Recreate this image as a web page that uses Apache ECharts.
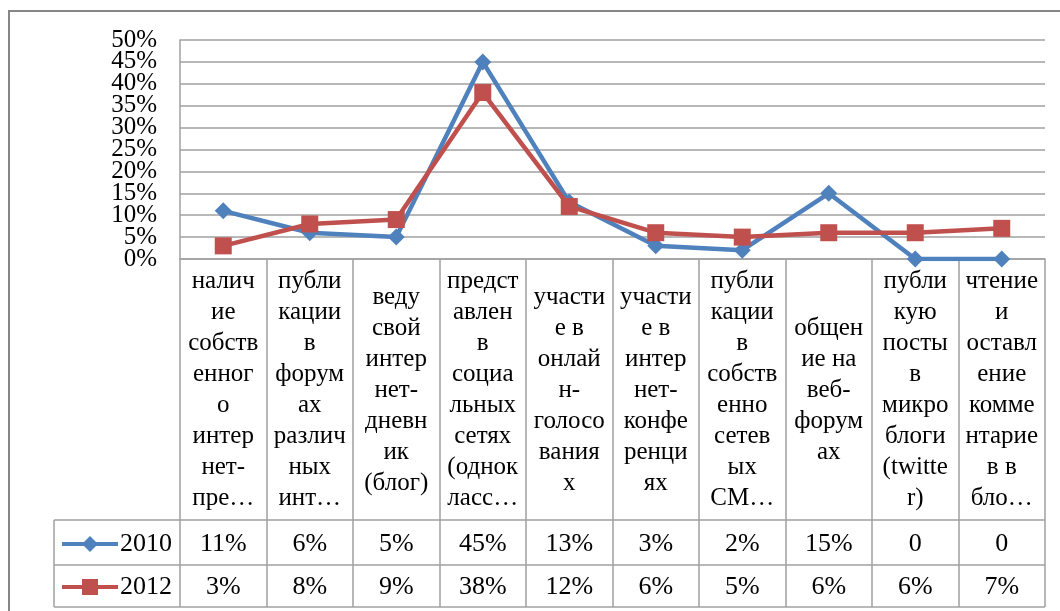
<!DOCTYPE html>
<html>
<head>
<meta charset="utf-8">
<script src="https://cdn.jsdelivr.net/npm/echarts@6/dist/echarts.min.js"></script>
<style>
  html, body { margin: 0; padding: 0; background: #fff; }
  #chart { width: 1060px; height: 611px; }
</style>
</head>
<body>
<div id="chart"></div>
<script>
// категории (как в таблице данных Excel, с переносами)
const categories = [
  "налич\nие\nсобств\nенног\nо\nинтер\nнет-\nпре…",
  "публи\nкации\nв\nфорум\nах\nразлич\nных\nинт…",
  "веду\nсвой\nинтер\nнет-\nдневн\nик\n(блог)",
  "предст\nавлен\nв\nсоциа\nльных\nсетях\n(однок\nласс…",
  "участи\nе в\nонлай\nн-\nголосо\nвания\nх",
  "участи\nе в\nинтер\nнет-\nконфе\nренци\nях",
  "публи\nкации\nв\nсобств\nенно\nсетев\nых\nСМ…",
  "общен\nие на\nвеб-\nфорум\nах",
  "публи\nкую\nпосты\nв\nмикро\nблоги\n(twitte\nr)",
  "чтение\nи\nоставл\nение\nкомме\nнтарие\nв в\nбло…"
];
const values2010 = [11, 6, 5, 45, 13, 3, 2, 15, 0, 0];
const values2012 = [3, 8, 9, 38, 12, 6, 5, 6, 6, 7];
const yMin = 0, yMax = 50, yStep = 5;

const FONT = "'Liberation Serif', 'Times New Roman', serif";
const GRID_COLOR = "#a0a0a0";

function fmt(v) {
  return v === 0 ? "0" : v + "%";
}

let chart = echarts.init(document.getElementById("chart"));

// линии таблицы данных
const left = 180, right = 1045, top0 = 259;
const rowLines = [520, 565, 607];
const graphics = [
  {
    type: "rect",
    shape: { x: 9, y: 11, width: 1100, height: 700 },
    style: { fill: null, stroke: "#868686", lineWidth: 2 },
    silent: true
  },
  {
    type: "line",
    shape: { x1: 54, y1: 520, x2: 54, y2: 607 },
    style: { stroke: GRID_COLOR, lineWidth: 1.5 }
  }
];
rowLines.forEach((y) => {
  graphics.push({
    type: "line",
    shape: { x1: 54, y1: y, x2: right, y2: y },
    style: { stroke: GRID_COLOR, lineWidth: 1.5 }
  });
});

const legendBase = {
  left: 60,
  padding: 0,
  itemWidth: 56,
  itemHeight: 20,
  itemGap: 0,
  lineStyle: { width: 4 },
  textStyle: { fontFamily: FONT, fontSize: 26, color: "#000", padding: [0, 0, 0, -3] }
};

const yLabelBase = {
  margin: 23,
  fontFamily: FONT,
  fontSize: 25,
  color: "#000"
};

const options = {
  animation: false,
  backgroundColor: "#fff",
  textStyle: { fontFamily: FONT, color: "#000" },
  grid: {
    left: left,
    right: 1060 - right,
    top: 40,
    bottom: 611 - top0
  },
  legend: [
    Object.assign({ data: ["2010"], top: 531 }, legendBase),
    Object.assign({ data: ["2012"], top: 574 }, legendBase)
  ],
  xAxis: [
    {
      type: "category",
      position: "bottom",
      data: categories,
      boundaryGap: true,
      axisLine: { show: true, lineStyle: { color: GRID_COLOR, width: 1.5 } },
      axisTick: {
        show: true,
        length: 607 - top0,
        lineStyle: { color: GRID_COLOR, width: 1.5 }
      },
      axisLabel: {
        interval: 0,
        margin: 131,
        verticalAlign: "middle",
        align: "center",
        fontFamily: FONT,
        fontSize: 25,
        lineHeight: 31,
        color: "#000"
      }
    },
    {
      type: "category",
      position: "bottom",
      data: categories,
      axisLine: { show: false },
      axisTick: { show: false },
      axisLabel: {
        interval: 0,
        margin: 285,
        verticalAlign: "middle",
        fontFamily: FONT,
        fontSize: 26,
        color: "#000",
        formatter: (v, i) => fmt(values2010[i])
      }
    },
    {
      type: "category",
      position: "bottom",
      data: categories,
      axisLine: { show: false },
      axisTick: { show: false },
      axisLabel: {
        interval: 0,
        margin: 328,
        verticalAlign: "middle",
        fontFamily: FONT,
        fontSize: 26,
        color: "#000",
        formatter: (v, i) => fmt(values2012[i])
      }
    }
  ],
  yAxis: [
    {
      type: "value",
      position: "left",
      min: yMin,
      max: yMax,
      interval: yStep,
      axisLine: { show: true, lineStyle: { color: GRID_COLOR, width: 1.5 } },
      axisTick: { show: false },
      splitLine: { show: true, lineStyle: { color: GRID_COLOR, width: 1.5 } },
      axisLabel: Object.assign({ formatter: "{value}%" }, yLabelBase)
    },
    {
      // только крайние подписи 0% и 50%
      type: "value",
      position: "left",
      min: yMin,
      max: yMax,
      interval: yStep,
      axisLine: { show: false },
      axisTick: { show: false },
      splitLine: { show: false },
      axisLabel: Object.assign(
        {
          showMinLabel: true,
          showMaxLabel: true,
          formatter: (v) => (v === yMin || v === yMax ? v + "%" : "")
        },
        yLabelBase
      )
    }
  ],
  series: [
    {
      name: "2010",
      type: "line",
      data: values2010,
      symbol: "diamond",
      symbolSize: 17,
      showAllSymbol: true,
      lineStyle: { color: "#4F81BD", width: 4.5 },
      itemStyle: { color: "#4F81BD" }
    },
    {
      name: "2012",
      type: "line",
      data: values2012,
      symbol: "rect",
      symbolSize: 17,
      showAllSymbol: true,
      lineStyle: { color: "#C0504D", width: 4.5 },
      itemStyle: { color: "#C0504D" }
    }
  ],
  graphic: graphics
};

chart.setOption(options);
</script>
</body>
</html>
